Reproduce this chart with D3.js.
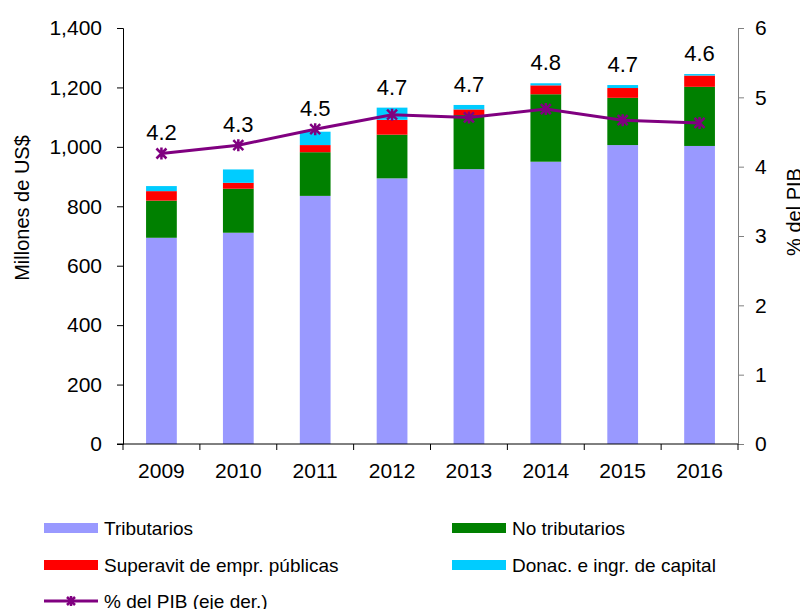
<!DOCTYPE html>
<html>
<head>
<meta charset="utf-8">
<style>
body { margin: 0; background: #fff; font-family: 'Liberation Sans', Arial, sans-serif; }
svg text { fill: #000; }
</style>
</head>
<body>
<svg width="800" height="609"></svg>
<script src="https://d3js.org/d3.v7.min.js"></script>
<script>
// chart data
var years = ["2009", "2010", "2011", "2012", "2013", "2014", "2015", "2016"];
var tributarios = [694, 711, 835, 894, 925, 950, 1006, 1003];
var noTributarios = [125, 148, 147, 147, 182, 227, 159, 199];
var superavit = [32, 20, 24, 50, 19, 30, 33, 38];
var donaciones = [17, 45, 45, 41, 15, 7, 10, 5];
var pib = [4.19, 4.31, 4.54, 4.75, 4.71, 4.83, 4.67, 4.63];
var pibLabels = ["4.2", "4.3", "4.5", "4.7", "4.7", "4.8", "4.7", "4.6"];
var leftTicks = [0, 200, 400, 600, 800, 1000, 1200, 1400];
var rightTicks = [0, 1, 2, 3, 4, 5, 6];

var seriesNames = ["Tributarios", "No tributarios", "Superavit de empr. públicas", "Donac. e ingr. de capital"];
var seriesValues = [tributarios, noTributarios, superavit, donaciones];
var colors = ["#9999ff", "#008000", "#ff0000", "#00ccff"];
var lineColor = "#800080";

var svg = d3.select("svg"),
    plotLeft = 123, plotRight = 738, plotTop = 28, plotBottom = 444;

var x = d3.scaleBand().domain(years).range([plotLeft, plotRight]).paddingInner(0.6).paddingOuter(0.3);
var xb = d3.scaleBand().domain(years).range([plotLeft, plotRight]);
var y = d3.scaleLinear().domain([0, 1400]).range([plotBottom, plotTop]);
var y2 = d3.scaleLinear().domain([0, 6]).range([plotBottom, plotTop]);

// build table for stack
var table = years.map(function(yr, i) {
  var row = { year: yr };
  seriesNames.forEach(function(k, j) { row[k] = seriesValues[j][i]; });
  return row;
});
var stacked = d3.stack().keys(seriesNames)(table);

svg.append("g")
  .selectAll("g")
  .data(stacked)
  .enter().append("g")
    .attr("fill", function(d, i) { return colors[i]; })
  .selectAll("rect")
  .data(function(d) { return d; })
  .enter().append("rect")
    .attr("x", function(d) { return x(d.data.year); })
    .attr("y", function(d) { return y(d[1]); })
    .attr("width", x.bandwidth())
    .attr("height", function(d) { return y(d[0]) - y(d[1]); });

// left axis
var la = svg.append("g")
  .attr("transform", "translate(" + plotLeft + ",0)")
  .call(d3.axisLeft(y).tickValues(leftTicks).tickSize(6).tickPadding(15).tickFormat(d3.format(",")));
la.select(".domain").attr("stroke", "#000");
la.selectAll("text").attr("font-size", 21).attr("font-family", "'Liberation Sans', Arial, sans-serif").attr("fill", "#000");

// right axis
var ra = svg.append("g")
  .attr("transform", "translate(" + plotRight + ",0)")
  .call(d3.axisRight(y2).tickValues(rightTicks).tickSize(6).tickPadding(11).tickFormat(d3.format("d")));
ra.select(".domain").attr("stroke", "#808080");
ra.selectAll("line").attr("stroke", "#808080");
ra.selectAll("text").attr("font-size", 21).attr("font-family", "'Liberation Sans', Arial, sans-serif").attr("fill", "#000");

// bottom axis with ticks between categories
svg.append("line")
  .attr("x1", plotLeft - 6).attr("x2", plotRight)
  .attr("y1", plotBottom).attr("y2", plotBottom)
  .attr("stroke", "#000");
svg.append("g")
  .selectAll("line")
  .data(years.concat(["end"]))
  .enter().append("line")
    .attr("x1", function(d, i) { return plotLeft + i * xb.step(); })
    .attr("x2", function(d, i) { return plotLeft + i * xb.step(); })
    .attr("y1", plotBottom).attr("y2", plotBottom + 6)
    .attr("stroke", "#000");
svg.append("g")
  .selectAll("text")
  .data(years)
  .enter().append("text")
    .attr("x", function(d) { return xb(d) + xb.bandwidth() / 2; })
    .attr("y", plotBottom + 34)
    .attr("text-anchor", "middle")
    .attr("font-size", 21)
    .text(function(d) { return d; });

// line
var line = d3.line()
  .x(function(d, i) { return x(years[i]) + x.bandwidth() / 2; })
  .y(function(d) { return y2(d); });
svg.append("path")
  .datum(pib)
  .attr("d", line)
  .attr("fill", "none")
  .attr("stroke", lineColor)
  .attr("stroke-width", 3);

function star(g, cx, cy, r) {
  g.append("path")
    .attr("d", "M" + (cx - r) + "," + (cy - r) + "L" + (cx + r) + "," + (cy + r) +
               "M" + (cx - r) + "," + (cy + r) + "L" + (cx + r) + "," + (cy - r) +
               "M" + cx + "," + (cy - r - 1) + "L" + cx + "," + (cy + r + 1))
    .attr("stroke", lineColor)
    .attr("stroke-width", 2.5)
    .attr("fill", "none");
}
var markers = svg.append("g");
pib.forEach(function(v, i) {
  star(markers, x(years[i]) + x.bandwidth() / 2, y2(v), 5);
});

// value labels above the higher of bar top and marker
var totals = table.map(function(r) { return d3.sum(seriesNames, function(k) { return r[k]; }); });
svg.append("g")
  .selectAll("text")
  .data(pibLabels)
  .enter().append("text")
    .attr("x", function(d, i) { return x(years[i]) + x.bandwidth() / 2; })
    .attr("y", function(d, i) { return Math.min(y(totals[i]), y2(pib[i])) - 13; })
    .attr("text-anchor", "middle")
    .attr("font-size", 22)
    .text(function(d) { return d; });

// axis titles
svg.append("text")
  .attr("transform", "translate(29,208) rotate(-90)")
  .attr("text-anchor", "middle")
  .attr("font-size", 20)
  .text("Millones de US$");
svg.append("text")
  .attr("transform", "translate(801,212) rotate(-90)")
  .attr("text-anchor", "middle")
  .attr("font-size", 20)
  .text("% del PIB");

// legend
var legendX = [44, 452];
var legendY = [528, 565];
var legend = svg.append("g");
seriesNames.forEach(function(name, i) {
  var lx = legendX[i % 2], ly = legendY[Math.floor(i / 2)];
  legend.append("rect")
    .attr("x", lx).attr("y", ly - 5)
    .attr("width", 54).attr("height", 10)
    .attr("fill", colors[i]);
  legend.append("text")
    .attr("x", lx + 60).attr("y", ly)
    .attr("dy", "0.35em")
    .attr("font-size", 19)
    .text(name);
});
legend.append("line")
  .attr("x1", 44).attr("x2", 98)
  .attr("y1", 601).attr("y2", 601)
  .attr("stroke", lineColor).attr("stroke-width", 3);
star(legend, 71, 601, 4);
legend.append("text")
  .attr("x", 104).attr("y", 601)
  .attr("dy", "0.35em")
  .attr("font-size", 19)
  .text("% del PIB (eje der.)");
</script>
</body>
</html>
